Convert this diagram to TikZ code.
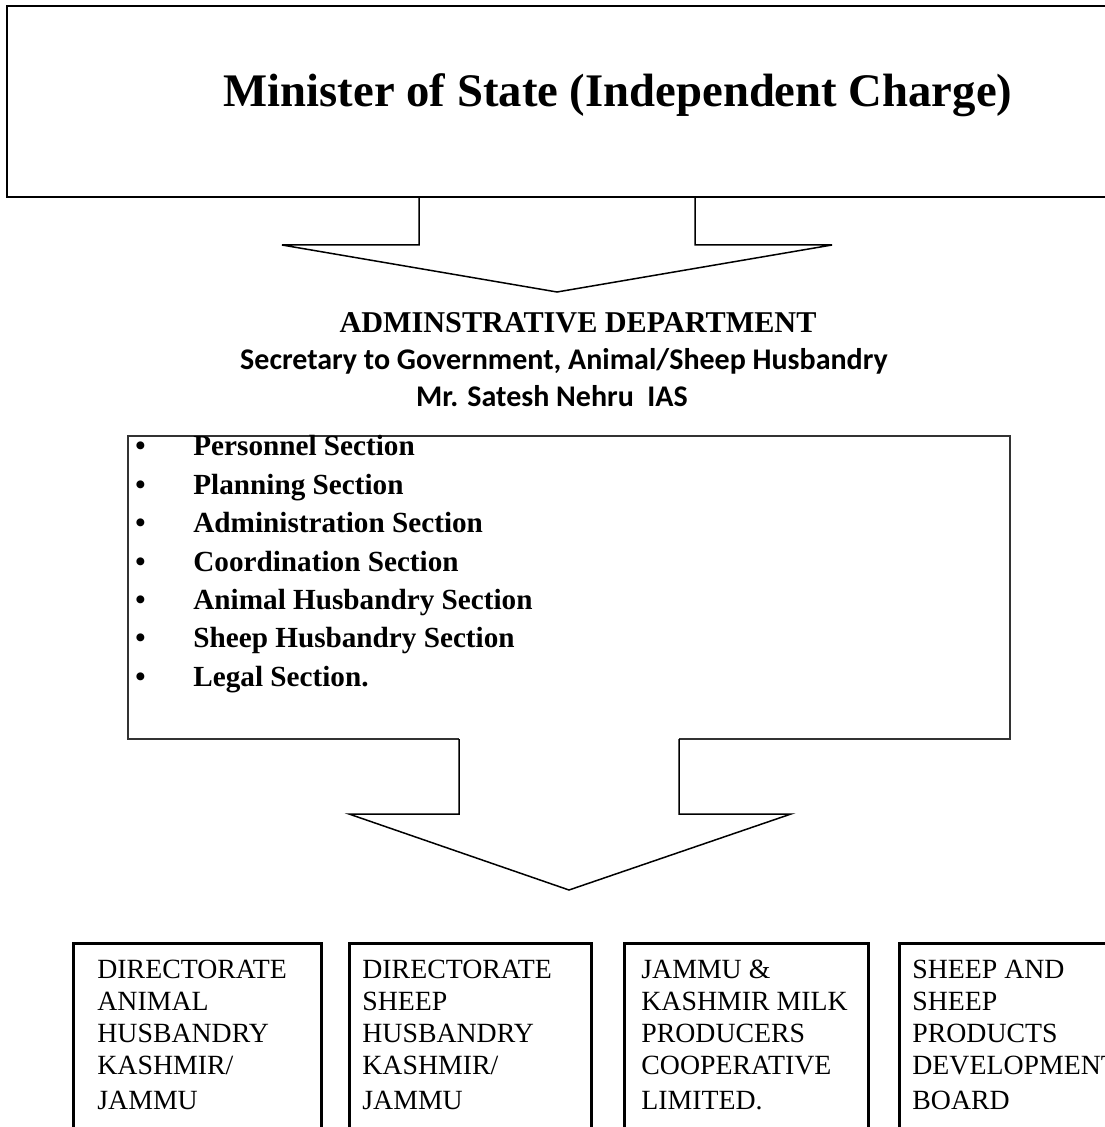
\documentclass[tikz,border=0pt]{standalone}
\usepackage{fontspec}
\setmainfont{Liberation Serif}
\newfontfamily\calibrifont{Carlito}
\usepackage{tikz}
\usetikzlibrary{positioning}

\tikzset{
  headbox/.style={draw, line width=1pt, outer sep=0pt, inner sep=0pt, anchor=north west},
  blockarrow/.style={draw, line width=0.75pt, line join=miter},
  listbox/.style={draw=black!80, line width=0.6pt},
  unitbox/.style={draw, line width=1.5pt, outer sep=0pt, inner sep=0pt, anchor=north west},
  unittext/.style={inner sep=0pt, align=left, font=\fontsize{13.9pt}{16pt}\selectfont},
  sectext/.style={inner sep=0pt, anchor=base west, font=\fontsize{14.6pt}{17pt}\selectfont\bfseries},
  titletext/.style={inner sep=0pt, anchor=base},
  secytext/.style={titletext, font=\calibrifont\bfseries\fontsize{15pt}{18pt}\selectfont},
}

\begin{document}
\begin{tikzpicture}[x=0.5pt,y=-0.5pt]
\useasboundingbox (0,0) rectangle (1104,1127);

% top box
\node[headbox, minimum width=560pt, minimum height=95.5pt] (minbox) at (7,6) {};
\node[titletext, font=\fontsize{23.35pt}{28pt}\selectfont\bfseries] (minister) at (618,107) {Minister of State (Independent Charge)};

% first block arrow
\coordinate (tip1) at (557,292);
\draw[blockarrow] (minbox.south -| 419,0) |- (282,245) -- (tip1) -- (832,245) -| (695,0 |- minbox.south);

% administrative department
\node[titletext, font=\fontsize{15.1pt}{18pt}\selectfont\bfseries] (admin) at (578,333) {ADMINSTRATIVE DEPARTMENT};
\node[secytext] (secy) at (564,370) {Secretary to Government, Animal/Sheep Husbandry};
\node[secytext] (mr) at (552,407) {Mr. Satesh Nehru~ IAS};

% sections
\draw[listbox] (459,739) -| (128,436) coordinate (secnw) -| (1010,739) coordinate (secse) -- (679,739);
\node[sectext] (sec1) at (135,456) {\makebox[29pt][l]{\textbullet}Personnel Section};
\node[sectext] (sec2) at (135,494.3) {\makebox[29pt][l]{\textbullet}Planning Section};
\node[sectext] (sec3) at (135,532.7) {\makebox[29pt][l]{\textbullet}Administration Section};
\node[sectext] (sec4) at (135,571) {\makebox[29pt][l]{\textbullet}Coordination Section};
\node[sectext] (sec5) at (135,609.3) {\makebox[29pt][l]{\textbullet}Animal Husbandry Section};
\node[sectext] (sec6) at (135,647.7) {\makebox[29pt][l]{\textbullet}Sheep Husbandry Section};
\node[sectext] (sec7) at (135,686) {\makebox[29pt][l]{\textbullet}Legal Section.};

% second block arrow
\coordinate (tip2) at (569,890);
\draw[blockarrow] (459,0 |- secse) |- (349,814) -- (tip2) -- (791,814) -| (679,0 |- secse);

% units
\node[unitbox, minimum width=124pt, minimum height=100pt] (dah) at (73,943) {};
\node[unittext, below right=8.3pt and 12pt of dah.north west] (dahname) {DIRECTORATE\\ANIMAL\\HUSBANDRY\\KASHMIR/\\[1.5pt]JAMMU};

\node[unitbox, minimum width=121pt, minimum height=100pt] (dsh) at (349,943) {};
\node[unittext, below right=8.3pt and 6.5pt of dsh.north west] (dshname) {DIRECTORATE\\SHEEP\\HUSBANDRY\\KASHMIR/\\[1.5pt]JAMMU};

\node[unitbox, minimum width=122pt, minimum height=100pt] (milk) at (624,943) {};
\node[unittext, below right=8.3pt and 8.5pt of milk.north west] (milkname) {JAMMU \&\\KASHMIR MILK\\PRODUCERS\\COOPERATIVE\\[1.5pt]LIMITED.};

\node[unitbox, minimum width=150pt, minimum height=100pt] (board) at (899,943) {};
\node[unittext, below right=8.3pt and 6.5pt of board.north west] (boardname) {SHEEP AND\\SHEEP\\PRODUCTS\\DEVELOPMENT\\[1.5pt]BOARD};

\end{tikzpicture}
\end{document}
